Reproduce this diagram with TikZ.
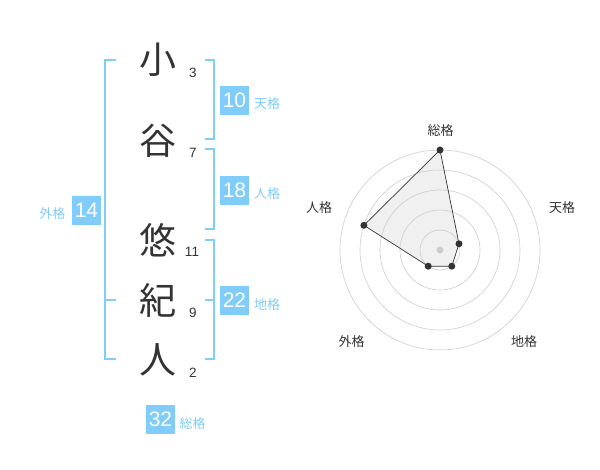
\documentclass[tikz,border=0pt]{standalone}
\usepackage{fontspec}
\setmainfont{Liberation Sans}
\newfontfamily\jp{Noto Sans CJK JP}
\definecolor{sky}{RGB}{128,204,250}
\definecolor{ink}{RGB}{51,51,51}
\begin{document}
\begin{tikzpicture}[x=1pt,y=-1pt,
  kanji/.style={font=\jp\fontsize{37}{37}\selectfont, text=ink, inner sep=0},
  strokes/.style={font=\fontsize{13.5}{13.5}\selectfont, text=ink, inner sep=0},
  valbox/.style={fill=sky, text=white, minimum width=29pt, minimum height=29pt, inner sep=0, font=\fontsize{21}{21}\selectfont},
  vallabel/.style={text=sky, font=\jp\fontsize{13}{13}\selectfont, inner sep=0, anchor=west},
  brk/.style={draw=sky, line width=2pt},
  ring/.style={draw=gray!40, line width=0.6pt},
  axislabel/.style={font=\jp\fontsize{13}{13}\selectfont, text=ink, inner sep=0},
  dot/.style={circle, fill=ink, inner sep=0, minimum size=7pt},
]
\useasboundingbox (0,0) rectangle (600,470);
% name characters
\node[kanji] (k1) at (158,60) {小};
\node[kanji] (k2) at (158,141) {谷};
\node[kanji] (k3) at (158,240) {悠};
\node[kanji] (k4) at (158,300) {紀};
\node[kanji] (k5) at (158,360) {人};
% stroke counts
\node[strokes] (s1) at (193,73) {3};
\node[strokes] (s2) at (193,153) {7};
\node[strokes] (s3) at (192,252) {11};
\node[strokes] (s4) at (193,313) {9};
\node[strokes] (s5) at (193,373) {2};
% brackets
\draw[brk] (116,60) -- (105,60) -- (105,359) -- (116,359);
\draw[brk] (105,300) -- (116,300);
\draw[brk] (205,60) -- (214,60) -- (214,139) -- (205,139);
\draw[brk] (205,149.5) -- (214,149.5) -- (214,229.5) -- (205,229.5);
\draw[brk] (205,240) -- (214,240) -- (214,359) -- (205,359);
\draw[brk] (205,300) -- (214,300);
% value boxes
\node[valbox] (b10) at (234.5,100.3) {10};
\node[vallabel] (l10) at (254,104) {天格};
\node[valbox] (b18) at (234.5,190.3) {18};
\node[vallabel] (l18) at (254,194) {人格};
\node[valbox] (b14) at (86.5,210.3) {14};
\node[vallabel, anchor=east] (l14) at (65.5,214) {外格};
\node[valbox] (b22) at (234.5,300.3) {22};
\node[vallabel] (l22) at (254,304.5) {地格};
\node[valbox] (b32) at (160.5,419.3) {32};
\node[vallabel] (l32) at (179.5,423.3) {総格};
% radar
\coordinate (c) at (440,250);
\coordinate (p1) at (440,150);
\coordinate (p2) at (459.0,243.8);
\coordinate (p3) at (451.8,266.2);
\coordinate (p4) at (428.2,266.2);
\coordinate (p5) at (363.9,225.3);
\fill[gray!12] (p1) -- (p2) -- (p3) -- (p4) -- (p5) -- cycle;
\foreach \r in {20,40,60,80,100} \draw[ring] (c) circle[radius=\r];
\draw[ink, line width=0.7pt] (p1) -- (p2) -- (p3) -- (p4) -- (p5) -- cycle;
\node[circle, fill=gray!40, inner sep=0, minimum size=7pt] (cd) at (c) {};
\node[dot] (d1) at (p1) {};
\node[dot] (d2) at (p2) {};
\node[dot] (d3) at (p3) {};
\node[dot] (d4) at (p4) {};
\node[dot] (d5) at (p5) {};
\node[axislabel] (a1) at (440.5,130.5) {総格};
\node[axislabel] (a2) at (562,208) {天格};
\node[axislabel] (a3) at (524,341.5) {地格};
\node[axislabel] (a4) at (351.5,341.5) {外格};
\node[axislabel] (a5) at (319,208) {人格};
\end{tikzpicture}
\end{document}
